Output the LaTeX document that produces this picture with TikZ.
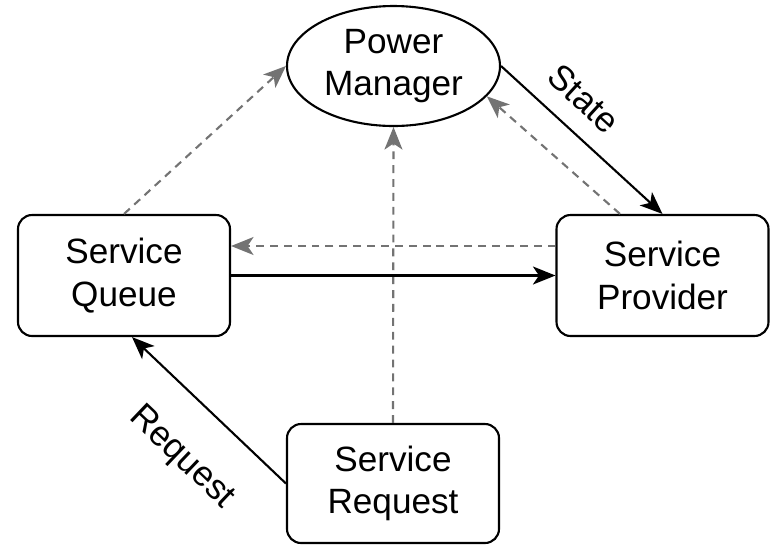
\documentclass[tikz,border=0pt]{standalone}
\usepackage{fontspec}
\setmainfont{Liberation Sans}
\usepackage{tikz}
\usetikzlibrary{positioning,arrows.meta,shapes.geometric}

\begin{document}
\begin{tikzpicture}[
    block/.style={rectangle, rounded corners=8pt, draw=black, fill=white,
                  line width=1.2pt, align=center, minimum width=4.24cm,
                  minimum height=2.42cm, font=\fontsize{20}{24.3}\selectfont},
    manager/.style={ellipse, draw=black, fill=white, line width=1.2pt,
                    align=center, minimum width=4.26cm, minimum height=2.4cm,
                    inner sep=0pt, font=\fontsize{20}{24.3}\selectfont},
    flow/.style={-{Stealth[length=4.5mm, width=3.6mm, inset=1.2mm]},
                 line width=1.2pt, draw=black},
    ctrl/.style={-{Stealth[length=4.5mm, width=3.6mm, inset=1.2mm]},
                 line width=1.2pt, draw=black!55,
                 dash pattern=on 4.5pt off 3.4pt},
    elab/.style={font=\fontsize{20}{24}\selectfont, inner sep=2pt, sloped}
]
\useasboundingbox (0,0) rectangle (15.42,-10.9);

% --- nodes ---
\node[manager] (pm)       at (7.87, -1.32)  {Power\\Manager};
\node[block]   (queue)    at (2.48, -5.51)  {Service\\Queue};
\node[block]   (provider) at (13.25,-5.51)  {Service\\Provider};
\node[block, minimum height=2.38cm] (request) at (7.86, -9.67) {Service\\Request};

% --- dashed control paths towards the manager ---
\draw[ctrl] (queue.north) -- (pm.west);
\draw[ctrl] (request.north) -- (pm.south);
\draw[ctrl] ([xshift=-0.85cm]provider.north) -- (pm.-18);
\draw[ctrl] ([yshift=0.59cm]provider.west) -- ([yshift=0.59cm]queue.east);

% --- solid flow arrows ---
\draw[flow] (queue) -- (provider);
\draw[flow] (pm.east) -- node[elab, above=0.3cm, pos=0.38] {State} (provider.north);
\draw[flow] (request.west) -- node[elab, below=0.66cm, pos=0.44] {Request}
    ([xshift=0.16cm]queue.south);

\end{tikzpicture}
\end{document}
